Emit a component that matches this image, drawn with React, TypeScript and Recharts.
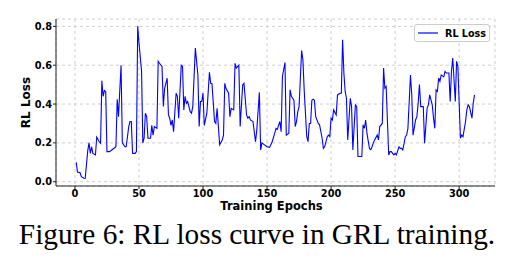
import React from "react";
import {
  CartesianGrid,
  Legend,
  Line,
  LineChart,
  XAxis,
  YAxis,
} from "recharts";

// epochs where the curve changes direction
const epochs = [
  1, 2, 4, 5, 7, 8, 10, 11, 12, 13, 14, 16, 17, 19, 20, 21, 22, 23, 24, 25,
  27, 30, 32, 33, 34, 35, 36, 37, 39, 40, 42, 43, 44, 45, 47, 48, 49, 50, 52, 53,
  54, 55, 56, 57, 59, 60, 61, 62, 64, 65, 66, 68, 69, 70, 71, 72, 73, 74, 75, 76,
  77, 79, 80, 81, 83, 84, 85, 86, 87, 88, 90, 91, 92, 94, 96, 97, 98, 99, 100, 101,
  103, 105, 106, 107, 109, 110, 111, 113, 115, 116, 117, 118, 120, 121, 122, 124, 125, 126, 128, 129,
  131, 132, 134, 135, 136, 137, 139, 141, 142, 144, 145, 146, 148, 150, 152, 154, 156, 157, 158, 159,
  160, 161, 162, 164, 165, 167, 168, 169, 171, 172, 173, 174, 175, 177, 178, 179, 181, 182, 183, 184,
  185, 186, 187, 188, 190, 191, 193, 194, 195, 197, 198, 199, 200, 201, 202, 204, 205, 207, 208, 209,
  210, 211, 212, 213, 215, 216, 217, 219, 220, 221, 222, 224, 225, 226, 227, 228, 230, 231, 232, 233,
  234, 236, 237, 238, 240, 241, 242, 243, 245, 246, 247, 249, 250, 251, 253, 254, 255, 256, 258, 259,
  260, 262, 263, 264, 266, 267, 268, 269, 270, 272, 273, 275, 276, 277, 279, 280, 281, 282, 283, 284,
  285, 286, 288, 289, 290, 292, 293, 294, 295, 297, 298, 299, 301, 302, 303, 305, 306, 307, 308, 310,
  311, 312,
];

const rlLoss = [
  0.1, 0.05, 0.046, 0.026, 0.018, 0.017, 0.16, 0.2, 0.146, 0.18, 0.146, 0.138, 0.23, 0.206, 0.198, 0.52, 0.44, 0.47, 0.465, 0.155,
  0.155, 0.17, 0.18, 0.425, 0.335, 0.47, 0.6, 0.2, 0.18, 0.18, 0.284, 0.31, 0.31, 0.146, 0.146, 0.155, 0.8, 0.714, 0.57, 0.2,
  0.224, 0.353, 0.335, 0.224, 0.224, 0.29, 0.24, 0.284, 0.275, 0.62, 0.61, 0.594, 0.387, 0.48, 0.507, 0.533, 0.344, 0.327, 0.29, 0.318,
  0.258, 0.456, 0.44, 0.327, 0.6, 0.594, 0.37, 0.44, 0.404, 0.413, 0.361, 0.353, 0.387, 0.688, 0.55, 0.284, 0.413, 0.413, 0.456, 0.29,
  0.353, 0.563, 0.507, 0.505, 0.31, 0.3, 0.378, 0.19, 0.215, 0.24, 0.507, 0.48, 0.456, 0.335, 0.378, 0.37, 0.61, 0.585, 0.6, 0.284,
  0.5, 0.507, 0.344, 0.327, 0.335, 0.318, 0.31, 0.206, 0.267, 0.46, 0.163, 0.2, 0.19, 0.18, 0.177, 0.206, 0.25, 0.275, 0.27, 0.29,
  0.31, 0.258, 0.542, 0.614, 0.24, 0.25, 0.473, 0.44, 0.42, 0.284, 0.31, 0.361, 0.387, 0.676, 0.628, 0.473, 0.232, 0.206, 0.3, 0.3,
  0.42, 0.425, 0.42, 0.335, 0.3, 0.293, 0.224, 0.172, 0.18, 0.232, 0.24, 0.232, 0.327, 0.318, 0.37, 0.344, 0.447, 0.456, 0.456, 0.731,
  0.56, 0.465, 0.43, 0.215, 0.43, 0.387, 0.164, 0.396, 0.387, 0.13, 0.13, 0.13, 0.293, 0.275, 0.318, 0.25, 0.17, 0.165, 0.18, 0.2,
  0.215, 0.24, 0.215, 0.284, 0.3, 0.585, 0.482, 0.49, 0.138, 0.155, 0.155, 0.138, 0.146, 0.138, 0.18, 0.172, 0.172, 0.164, 0.232, 0.24,
  0.275, 0.55, 0.447, 0.24, 0.318, 0.335, 0.404, 0.5, 0.387, 0.387, 0.198, 0.379, 0.396, 0.447, 0.396, 0.327, 0.275, 0.473, 0.465, 0.534,
  0.517, 0.55, 0.54, 0.568, 0.56, 0.56, 0.413, 0.568, 0.637, 0.413, 0.62, 0.594, 0.224, 0.24, 0.232, 0.31, 0.37, 0.396, 0.387, 0.327,
  0.404, 0.447,
];

const xTicks = [0, 50, 100, 150, 200, 250, 300];
const yTicks = [0, 0.2, 0.4, 0.6, 0.8];

const data = epochs.map((epoch, i) => ({ epoch, loss: rlLoss[i] }));

const font = "'DejaVu Sans', sans-serif";
const tickStyle = { fontFamily: font, fontSize: 9.8, fontWeight: "bold", fill: "#000" };

function LegendBox() {
  return (
    <div
      style={{
        width: 74,
        height: 16,
        border: "1px solid #ccc",
        borderRadius: 3,
        background: "rgba(255,255,255,0.8)",
        display: "flex",
        alignItems: "center",
        fontFamily: font,
        fontWeight: "bold",
        fontSize: 9.6,
      }}
    >
      <svg width={28} height={16}>
        <line x1={3} x2={23} y1={8} y2={8} stroke="#0000ff" strokeWidth={1.2} />
      </svg>
      <span style={{ marginLeft: 2 }}>RL Loss</span>
    </div>
  );
}

export default function App() {
  return (
    <div style={{ position: "absolute", left: 0, top: 0, width: 522, height: 263, background: "#fff" }}>
      <LineChart width={522} height={215} data={data} margin={{ top: 19, right: 27, left: 0, bottom: 0 }}>
        <CartesianGrid stroke="#cfcfcf" strokeDasharray="3 3" />
        <XAxis
          dataKey="epoch"
          type="number"
          domain={[-14.8, 328]}
          ticks={xTicks}
          allowDataOverflow
          height={29}
          tick={tickStyle}
          tickSize={3}
          tickMargin={1}
          stroke="#222"
          label={{
            value: "Training Epochs",
            position: "insideBottom",
            offset: 5.5,
            dx: -4,
            style: { fontFamily: font, fontSize: 11.5, fontWeight: "bold", fill: "#000" },
          }}
        />
        <XAxis xAxisId="top" orientation="top" dataKey="epoch" type="number" domain={[-14.8, 328]} height={0} tick={false} tickLine={false} stroke="#222" />
        <YAxis
          type="number"
          domain={[-0.022, 0.838]}
          ticks={yTicks}
          allowDataOverflow
          width={56}
          tick={tickStyle}
          tickSize={3}
          tickMargin={1}
          tickFormatter={(v: number) => v.toFixed(1)}
          stroke="#222"
          label={{
            content: (props: any) => {
              const vb = props.viewBox;
              const cx = 26;
              const cy = vb.y + vb.height / 2;
              return (
                <text
                  x={cx}
                  y={cy}
                  transform={`rotate(-90 ${cx} ${cy})`}
                  textAnchor="middle"
                  dominantBaseline="central"
                  style={{ fontFamily: font, fontSize: 12, fontWeight: "bold" }}
                  fill="#000"
                >
                  RL Loss
                </text>
              );
            },
          }}
        />
        <YAxis yAxisId="right" orientation="right" width={0} tick={false} tickLine={false} stroke="#222" />
        <Legend
          layout="horizontal"
          verticalAlign="middle"
          align="center"
          content={() => <LegendBox />}
          wrapperStyle={{ position: "absolute", left: 414, top: 24, width: 76, height: 18 }}
        />
        <Line
          type="linear"
          dataKey="loss"
          name="RL Loss"
          stroke="#0000ff"
          strokeWidth={1.1}
          dot={false}
          isAnimationActive={false}
        />
      </LineChart>
      <svg width={522} height={263} style={{ position: "absolute", left: 0, top: 0, pointerEvents: "none" }}>
        <text x={257} y={244} textAnchor="middle" fontFamily="'Liberation Serif', serif" fontSize={29.3} fill="#000">
          Figure 6: RL loss curve in GRL training.
        </text>
      </svg>
    </div>
  );
}
